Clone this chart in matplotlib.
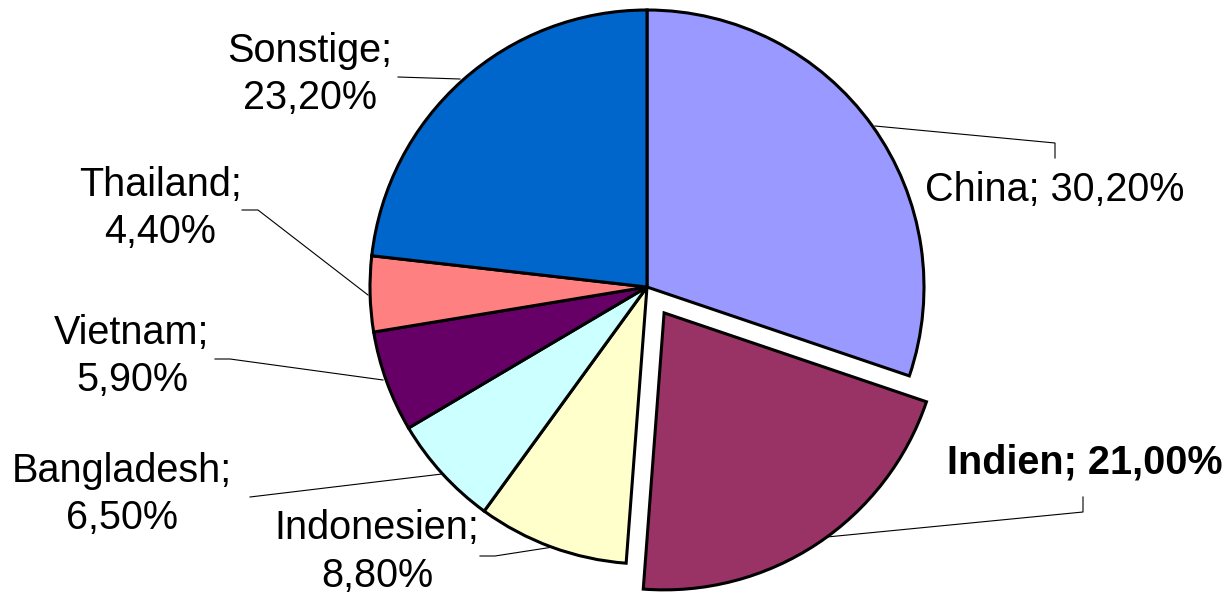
import matplotlib.pyplot as plt

# data
countries = ['China', 'Indien', 'Indonesien', 'Bangladesh', 'Vietnam', 'Thailand', 'Sonstige']
shares = [30.2, 21.0, 8.8, 6.5, 5.9, 4.4, 23.2]
colors = ['#9999FF', '#993366', '#FFFFCC', '#CCFFFF', '#660066', '#FF8080', '#0066CC']
explode = [0, 0.112, 0, 0, 0, 0, 0]

plt.rcParams['font.family'] = ['Liberation Sans', 'DejaVu Sans']

W, H = 1231, 596
CX, CY, R = 647, 287, 277  # pie centre / radius in pixels


def px(x, y):
    # pixel position -> data coords (pie radius = 1)
    return (x - CX) / R, (CY - y) / R


fig = plt.figure(figsize=(W / 100, H / 100), dpi=100)
ax = fig.add_axes([0, 0, 1, 1])
ax.pie(shares, colors=colors, explode=explode, startangle=90, counterclock=False,
       radius=1, wedgeprops={'edgecolor': 'black', 'linewidth': 2.2})
ax.set_xlim(px(0, 0)[0], px(W, 0)[0])
ax.set_ylim(px(0, H)[1], px(0, 0)[1])
ax.set_aspect('equal')
ax.axis('off')

labels = [f'{c}; {v:.2f}'.replace('.', ',') + '%' for c, v in zip(countries, shares)]

# label layout: (text centre, leader line points) in pixels
layout = {
    'China': ((1055, 190), [(875, 126), (1055, 143), (1055, 158)], False),
    'Indien': ((1085, 462), [(827, 537), (1083, 512), (1083, 497)], False),
    'Indonesien': ((377, 552), [(553, 547), (495, 556), (480, 556)], True),
    'Bangladesh': ((122, 495), [(442, 474), (250, 497)], True),
    'Vietnam': ((132, 356), [(383, 380), (230, 359), (215, 359)], True),
    'Thailand': ((160, 208), [(368, 295), (258, 210), (242, 210)], True),
    'Sonstige': ((310, 74), [(460, 79), (398, 77)], True),
}

for name, lab in zip(countries, labels):
    (tx, ty), line, wrap = layout[name]
    txt = lab.replace(' ', '\n', 1) if wrap else lab
    weight = 'bold' if name == 'Indien' else 'normal'
    ax.text(*px(tx, ty), txt, ha='center', va='center', fontsize=28.5,
            fontweight=weight, linespacing=1.3)
    xs, ys = zip(*[px(x, y) for x, y in line])
    ax.plot(xs, ys, color='black', linewidth=0.8)

fig.savefig('out.png', dpi=100)
